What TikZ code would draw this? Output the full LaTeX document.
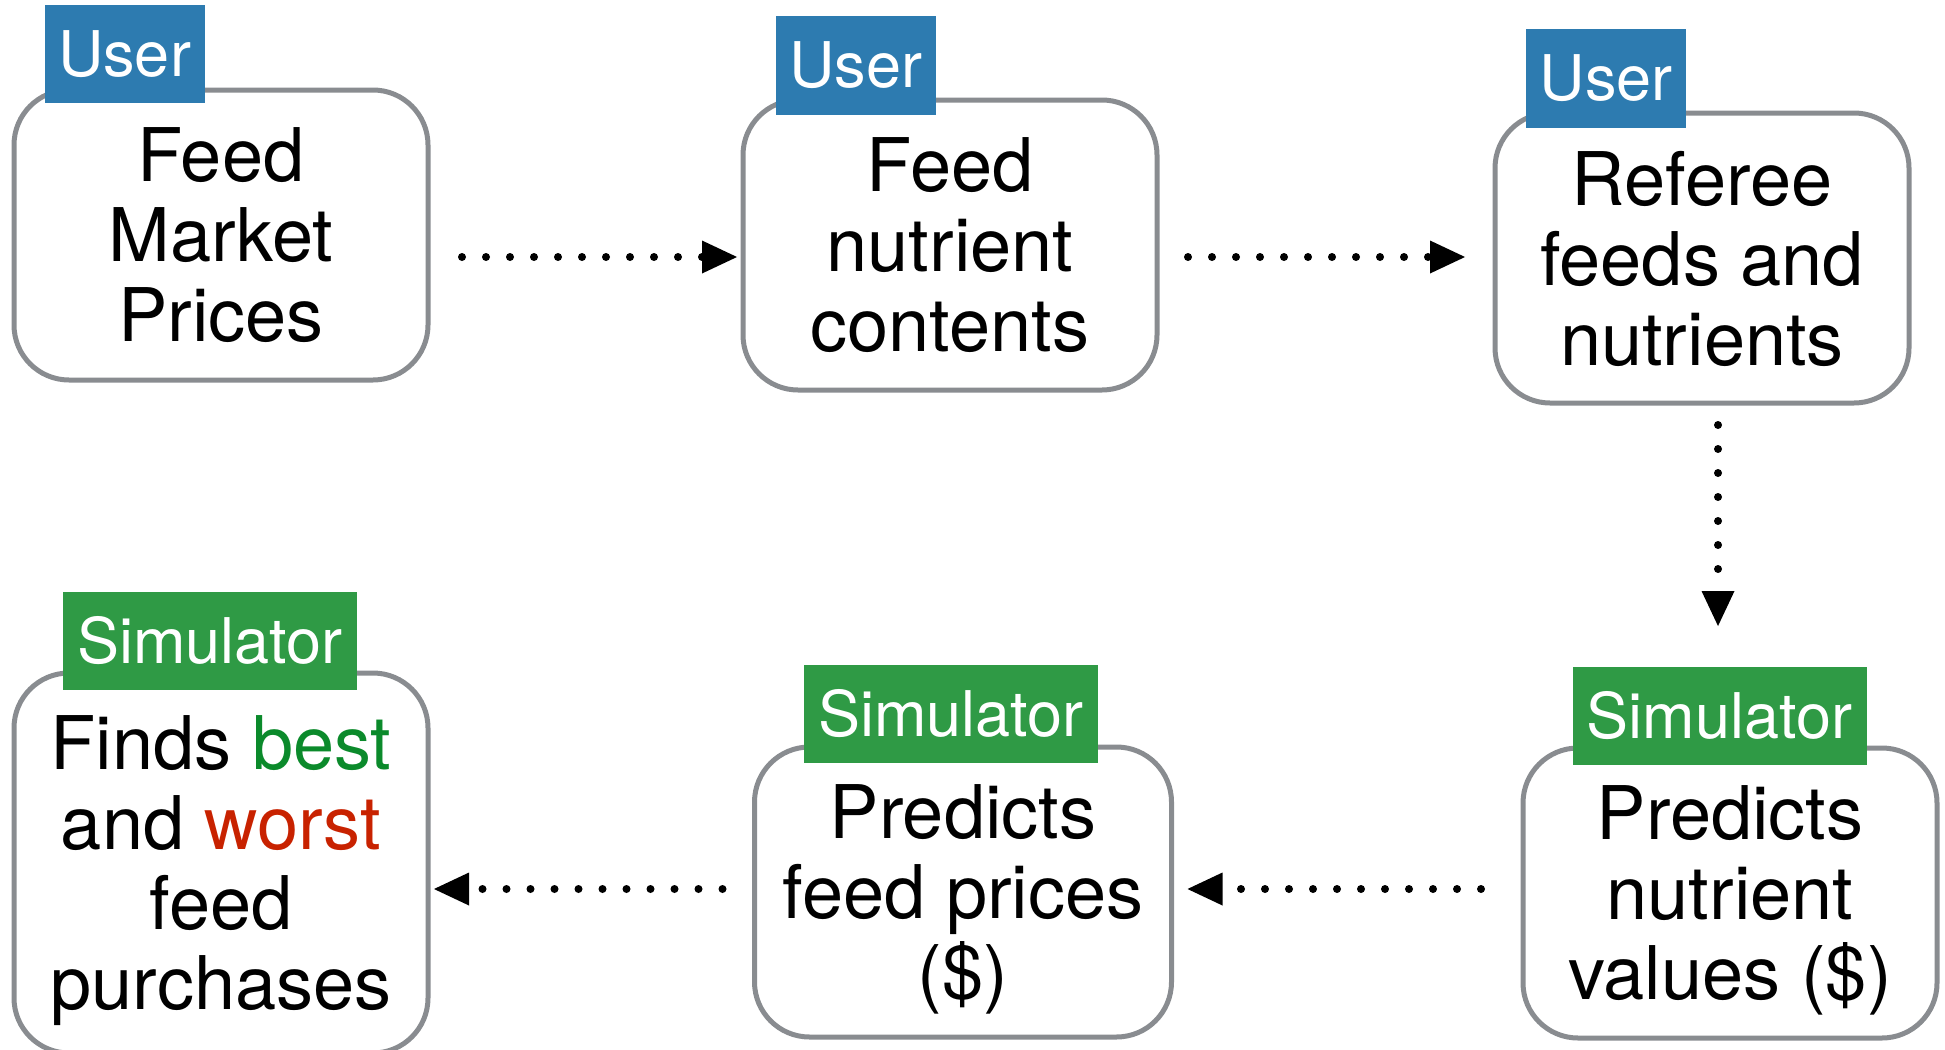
\documentclass[tikz,border=0pt]{standalone}
\usepackage{fontspec}
\setmainfont{TeX Gyre Heros}
\usetikzlibrary{arrows.meta}
\definecolor{userblue}{HTML}{2D7BB0}
\definecolor{simgreen}{HTML}{2F9A45}
\definecolor{boxgray}{HTML}{898C90}
\definecolor{bestgreen}{HTML}{0B8A2B}
\definecolor{worstred}{HTML}{C82200}
\begin{document}
\begin{tikzpicture}[x=1pt,y=-1pt,
  stepbox/.style={draw=boxgray, line width=5pt, rounded corners=55pt, fill=white,
    align=center, font=\fontsize{74}{80}\selectfont, text depth=0pt,
    inner sep=0pt, outer sep=0pt, minimum width=414pt, minimum height=290pt},
  tagbox/.style={inner sep=0pt, outer sep=0pt, text=white,
    font=\fontsize{63}{63}\selectfont, minimum height=98pt},
  usertag/.style={tagbox, fill=userblue, minimum width=160pt},
  simtag/.style={tagbox, fill=simgreen, minimum width=294pt},
  flow/.style={line width=8pt, line cap=round, dash pattern=on 0pt off 24pt,
    -{Triangle[length=35pt,width=33pt,line width=0pt]}}]
\useasboundingbox (0,0) rectangle (1945,1049);
\clip (0,0) rectangle (1945,1049);

% main boxes
\node[stepbox] (b1) at (221,235) {Feed\\Market\\Prices};
\node[stepbox] (b2) at (950,245) {Feed\\nutrient\\contents};
\node[stepbox] (b3) at (1702,258) {Referee\\feeds and\\nutrients};
\node[stepbox] (b4) at (1730,893) {Predicts\\nutrient\\values (\$)};
\node[stepbox, minimum width=417pt] (b5) at (963,892) {Predicts\\feed prices\\(\$)};
\node[stepbox, minimum height=380pt] (b6) at (221,863)
  {Finds \textcolor{bestgreen}{best}\\and \textcolor{worstred}{worst}\\feed\\purchases};

% tags
\node[usertag] (t1) at (124.5,54) {User};
\node[usertag] (t2) at (855.5,65.5) {User};
\node[usertag] (t3) at (1606,78.5) {User};
\node[simtag] (t4) at (1719.5,716) {Simulator};
\node[simtag] (t5) at (951,713.5) {Simulator};
\node[simtag] (t6) at (210,641) {Simulator};

% connectors
\draw[flow, shorten <=34pt, shorten >=6pt] (b1.east |- 0,257) -- (b2.west |- 0,257);
\draw[flow, shorten <=31pt, shorten >=30pt] (b2.east |- 0,257) -- (b3.west |- 0,257);
\draw[flow, shorten <=22pt, shorten >=41pt] (b3.south -| 1718,0) -- (t4.north -| 1718,0);
\draw[flow, shorten <=42pt, shorten >=16pt] (b4.west |- 0,889) -- (b5.east |- 0,889);
\draw[flow, shorten <=32pt, shorten >=6pt] (b5.west |- 0,889) -- (b6.east |- 0,889);
\end{tikzpicture}
\end{document}
